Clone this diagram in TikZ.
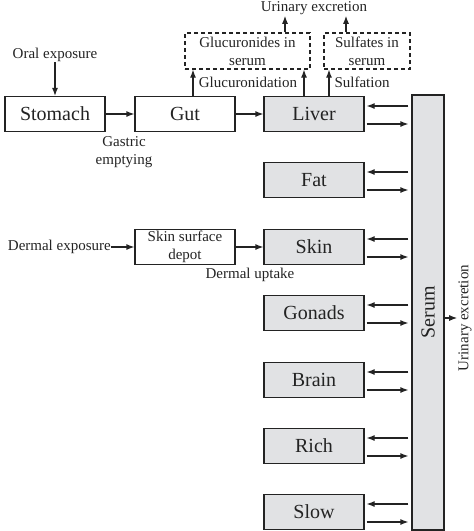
\documentclass[tikz,border=0pt]{standalone}
\usepackage{fontspec}
\setmainfont{Liberation Serif}
\usetikzlibrary{arrows.meta,calc}
\definecolor{boxgray}{RGB}{225,226,228}
\definecolor{ink}{RGB}{35,35,35}
\begin{document}
\begin{tikzpicture}[x=1pt,y=-1pt,
  big/.style={font=\fontsize{20}{22}\selectfont},
  small/.style={font=\fontsize{15}{18}\selectfont},
  box/.style={draw=ink,line width=1.2pt,minimum width=100pt,minimum height=35pt,inner sep=0pt,big,text=ink},
  organ/.style={box,fill=boxgray},
  dbox/.style={draw=ink,dash pattern=on 4pt off 3pt,line width=1.2pt,inner sep=0pt,small,align=center,text=ink},
  arr/.style={draw=ink,line width=1.2pt,-{Latex[length=8pt,width=6pt]}},
  lbl/.style={inner sep=0pt,small,text=ink,align=center}]
\useasboundingbox (0,0) rectangle (474,531);
% main boxes
\node[box] (stomach) at (55,114) {Stomach};
\node[box] (gut) at (185,114) {Gut};
\node[organ] (liver) at (314,114) {Liver};
\node[organ] (fat) at (314,180) {Fat};
\node[box,small,align=center] (depot) at (185,247) {Skin surface\\depot};
\node[organ] (skin) at (314,247) {Skin};
\node[organ] (gonads) at (314,313) {Gonads};
\node[organ] (brain) at (314,380) {Brain};
\node[organ] (rich) at (314,446) {Rich};
\node[organ] (slow) at (314,512) {Slow};
\node[organ,minimum width=32pt,minimum height=435pt] (serum) at (428,312.5) {};
\node[big,rotate=90,text=ink,inner sep=0pt] (serumlbl) at (serum.center) {Serum};
% dashed metabolite boxes
\node[dbox,minimum width=125pt,minimum height=36pt] (gluc) at (247.5,51) {Glucuronides in\\serum};
\node[dbox,minimum width=86pt,minimum height=36pt] (sulf) at (367,51) {Sulfates in\\serum};
% labels
\node[lbl] (urine) at (314,8) {Urinary excretion};
\node[lbl] (oral) at (55,55) {Oral exposure};
\node[lbl] (gastric) at (124,152) {Gastric\\emptying};
\node[lbl] (glucl) at (248,82) {Glucuronidation};
\node[lbl] (sulfl) at (362,82) {Sulfation};
\node[lbl,anchor=east] (dermal) at (111,247) {Dermal exposure};
\node[lbl] (uptake) at (250,275) {Dermal uptake};
\node[lbl,rotate=90] (uex) at (465,318) {Urinary excretion};
% connectors
\draw[arr] (oral) -- (stomach);
\draw[arr] (stomach) -- (gut);
\draw[arr] (gut) -- (liver);
\draw[arr] (dermal) -- (depot);
\draw[arr] (depot) -- (skin);
\draw[arr] ([xshift=8pt]gut.north) -- ([xshift=8pt]gut.north |- gluc.south);
\draw[arr] ([xshift=-10pt]liver.north) -- ([xshift=-10pt]liver.north |- gluc.south);
\draw[arr] ([xshift=15pt]liver.north) -- ([xshift=15pt]liver.north |- sulf.south);
\draw[arr,shorten >=1pt] ([xshift=37.5pt]gluc.north) -- ([xshift=37.5pt]gluc.north |- urine.south);
\draw[arr,shorten >=1pt] ([xshift=-21pt]sulf.north) -- ([xshift=-21pt]sulf.north |- urine.south);
\foreach \n in {liver,fat,skin,gonads,brain,rich,slow} {
  \draw[arr,shorten <=3pt,shorten >=2pt] ($(\n.east -| serum.west)+(0,8pt)$) -- ($(\n.east)+(0,8pt)$);
  \draw[arr,shorten <=2pt,shorten >=3pt] ($(\n.east)+(0,-10pt)$) -- ($(\n.east -| serum.west)+(0,-10pt)$);
}
\draw[arr,shorten >=1pt] (serum.east |- uex) -- (uex.north);
\end{tikzpicture}
\end{document}
